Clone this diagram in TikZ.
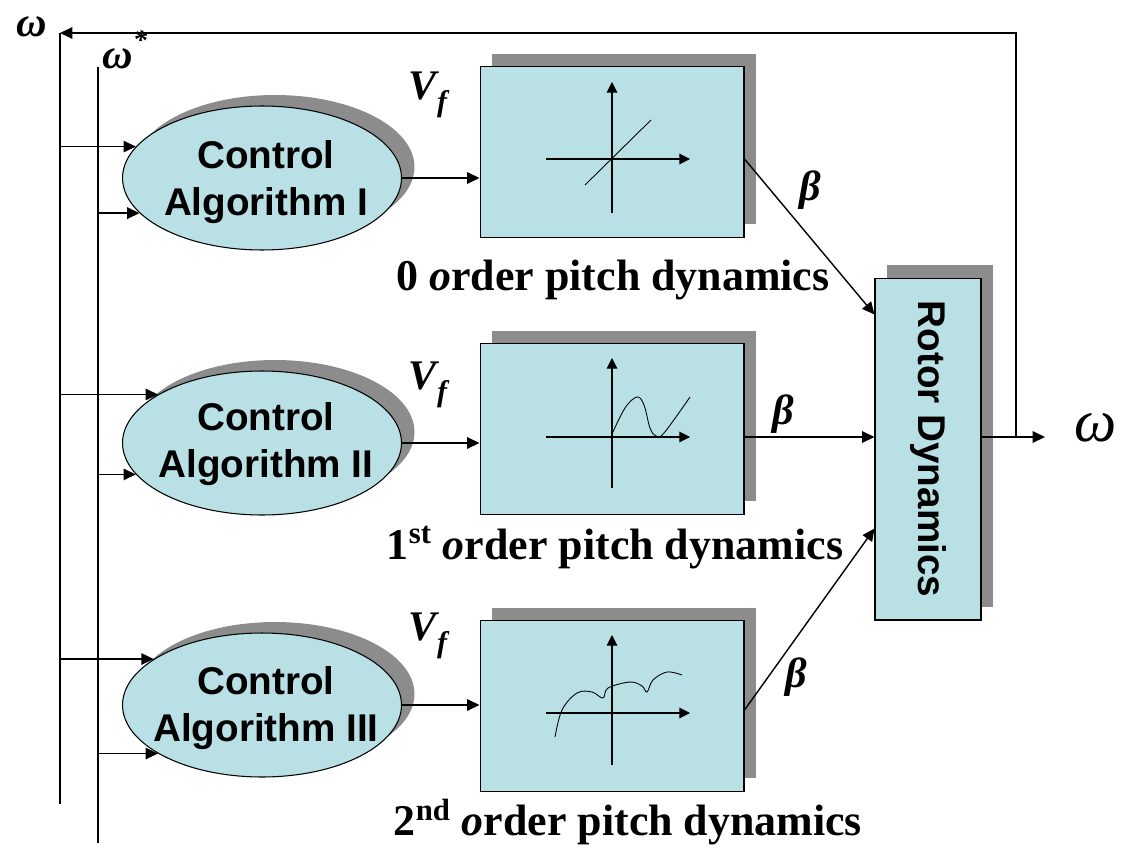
\documentclass[tikz,border=0pt]{standalone}
\usepackage{fontspec}
\setmainfont{Liberation Serif}
\setsansfont{Liberation Sans}
\usepackage{graphicx}
\usetikzlibrary{shapes.geometric,shadows,arrows.meta}
\definecolor{boxfill}{RGB}{185,224,228}
\definecolor{shadowgray}{RGB}{140,140,140}
\tikzset{
  conn/.style={line width=0.8pt,-{Triangle[length=7pt,width=6.5pt]}},
  axis/.style={line width=0.6pt,-{Triangle[length=6pt,width=6pt]}},
  boxshadow/.style={drop shadow={shadow xshift=0.24cm,shadow yshift=0.26cm,fill=shadowgray,opacity=1}},
  ctrl/.style={ellipse,draw,line width=0.6pt,fill=boxfill,minimum width=5.58cm,minimum height=2.88cm,inner sep=0pt,
    drop shadow={shadow xshift=0.26cm,shadow yshift=0.22cm,fill=shadowgray,opacity=1}},
  ctrltext/.style={align=center,font=\sffamily\bfseries\fontsize{22}{27}\selectfont},
  pitch/.style={rectangle,draw,line width=0.6pt,fill=boxfill,minimum width=5.28cm,minimum height=3.42cm,inner sep=0pt,boxshadow},
  rotorbox/.style={rectangle,draw,line width=0.6pt,fill=boxfill,minimum width=2.12cm,minimum height=6.84cm,inner sep=0pt,boxshadow,
    font=\sffamily\bfseries\fontsize{22}{28}\selectfont},
  pitchcaption/.style={font=\bfseries\fontsize{25}{28}\selectfont},
  lbl/.style={font=\bfseries\itshape\fontsize{24}{28}\selectfont},
}
\begin{document}
\begin{tikzpicture}[x=0.02cm,y=-0.02cm]
  \useasboundingbox (0,0) rectangle (1122,848);

  % control algorithms
  \node[ctrl] (ctrl1) at (262,178) {};
  \node[ctrl] (ctrl2) at (262,443) {};
  \node[ctrl] (ctrl3) at (262,705) {};
  \node[ctrltext] (ctrl1txt) at (266,182) {Control\\Algorithm I};
  \node[ctrltext] (ctrl2txt) at (266,444) {Control\\Algorithm II};
  \node[ctrltext] (ctrl3txt) at (266,708) {Control\\Algorithm III};

  % pitch dynamics
  \node[pitch] (pitch1) at (612,152) {};
  \node[pitch] (pitch2) at (612,429) {};
  \node[pitch] (pitch3) at (612,706) {};
  \node[rotorbox] (rotor) at (928,449) {\rotatebox{-90}{Rotor Dynamics}};

  \draw[axis] (546,159) -- (690,159);
  \draw[axis] (612,213) -- (612,82);
  \draw[line width=0.5pt] (585,185) -- (651,120);
  \draw[axis] (546,437) -- (690,437);
  \draw[axis] (612,488) -- (612,358);
  \draw[line width=0.5pt] plot[smooth,tension=0.6] coordinates {(612,434) (625,408) (637,397) (644,405) (650,428) (656,436) (664,433) (690,397)};
  \draw[axis] (546,713) -- (690,713);
  \draw[axis] (612,765) -- (612,635);
  \draw[line width=0.5pt] plot[smooth,tension=0.6] coordinates {(555,737) (562,710) (577,693) (592,692) (603,698) (608,688) (630,682) (642,686) (647,692) (653,680) (667,672) (682,675)};

  % labels
  \node[pitchcaption] (cap1) at (613,280) {0 \textit{o}rder pitch dynamics};
  \node[pitchcaption] (cap2) at (615,548) {1\textsuperscript{st} \textit{o}rder pitch dynamics};
  \node[pitchcaption] (cap3) at (628,822) {2\textsuperscript{nd} \textit{o}rder pitch dynamics};
  \node[lbl] (vf1) at (428,95) {V\raisebox{-0.3em}{\fontsize{17}{17}\selectfont f}};
  \node[lbl] (vf2) at (428,385) {V\raisebox{-0.3em}{\fontsize{17}{17}\selectfont f}};
  \node[lbl] (vf3) at (428,636) {V\raisebox{-0.3em}{\fontsize{17}{17}\selectfont f}};
  \node[lbl] (beta1) at (810,190) {β};
  \node[lbl] (beta2) at (783,414) {β};
  \node[lbl] (beta3) at (796,677) {β};
  \node[lbl] (wfb) at (32,27) {ω};
  \node[lbl] (wstar) at (125,50) {ω\raisebox{0.45em}{\fontsize{16}{16}\selectfont *}};
  \node[font=\itshape\fontsize{34}{34}\selectfont] (wout) at (1096,428) {ω};

  % signal lines
  \coordinate (wtop) at (60,33);
  \coordinate (wbot) at (60,804);
  \coordinate (wstop) at (98,67);
  \coordinate (wsbot) at (98,843);
  \coordinate (wend) at (1045,437);
  \coordinate (fb) at (1016,437);
  \draw[line width=0.8pt] (wtop) -- (wbot);
  \draw[line width=0.8pt] (wstop) -- (wsbot);
  \foreach \n/\a/\b in {1/166/196,2/155/194,3/157/205}{
    \draw[conn] (wtop |- ctrl\n.\a) -- (ctrl\n.\a);
    \draw[conn] (wstop |- ctrl\n.\b) -- (ctrl\n.\b);
    \draw[conn] (ctrl\n.east) -- (ctrl\n.east -| pitch\n.west);
  }
  \draw[conn] ([yshift=-0.14cm]pitch1.east) -- ([yshift=-0.74cm]rotor.north west);
  \draw[conn] ([yshift=-0.16cm]pitch2.east) -- ([yshift=-0.16cm]pitch2.east -| rotor.west);
  \draw[conn] ([yshift=-0.08cm]pitch3.east) -- ([yshift=1.84cm]rotor.south west);
  \draw[conn] (rotor.east |- wend) -- (wend);
  \draw[conn] (fb) |- (wtop);
\end{tikzpicture}
\end{document}
